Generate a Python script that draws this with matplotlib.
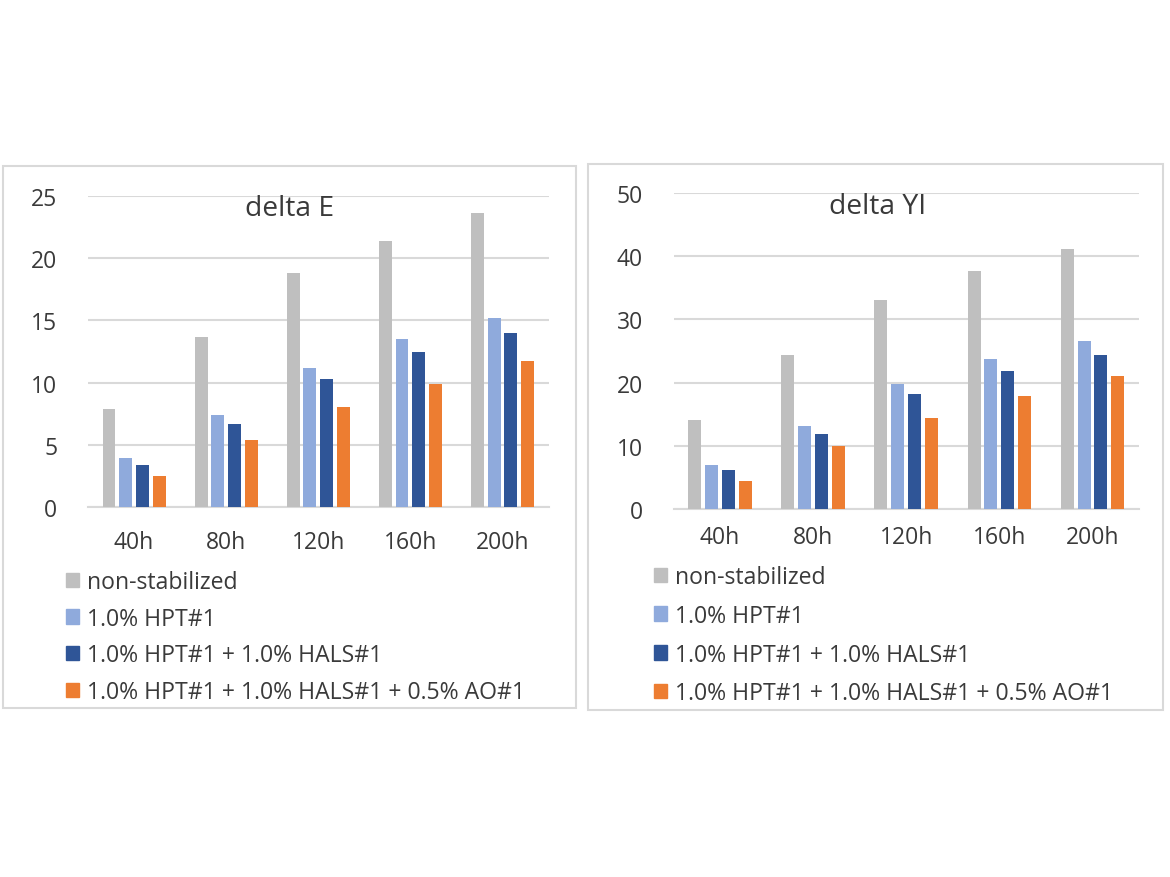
import numpy as np
import matplotlib.pyplot as plt
from matplotlib.patches import Patch, Rectangle

plt.rcParams['font.family'] = ['Open Sans', 'DejaVu Sans']

categorias = ["40h", "80h", "120h", "160h", "200h"]
series = ["non-stabilized",
          "1.0% HPT#1",
          "1.0% HPT#1 + 1.0% HALS#1",
          "1.0% HPT#1 + 1.0% HALS#1 + 0.5% AO#1"]
cores = ["#BFBFBF", "#8FAADC", "#2F5597", "#ED7D31"]

delta_e_nonstab = [7.9, 13.7, 18.8, 21.4, 23.6]
delta_e_hpt = [3.9, 7.4, 11.2, 13.5, 15.2]
delta_e_hals = [3.4, 6.7, 10.3, 12.5, 14.0]
delta_e_ao = [2.5, 5.4, 8.0, 9.9, 11.7]

delta_yi_nonstab = [14.1, 24.3, 33.1, 37.7, 41.2]
delta_yi_hpt = [7.0, 13.2, 19.8, 23.8, 26.6]
delta_yi_hals = [6.1, 11.9, 18.2, 21.9, 24.3]
delta_yi_ao = [4.4, 9.9, 14.4, 17.9, 21.0]

W, H = 1170, 878
fig = plt.figure(figsize=(W / 100, H / 100), dpi=100)
TXT = "#3a3a3a"
GRADE = "#D9D9D9"


def caixa(x0, y0, x1, y1):
    return [x0 / W, 1 - y1 / H, (x1 - x0) / W, (y1 - y0) / H]


def painel(ax, valores, titulo, ymax, passo, titulo_xy, leg_xy, xpad, espaco):
    x = np.arange(len(categorias))
    passo_barra = 0.181
    for i, (v, c) in enumerate(zip(valores, cores)):
        ax.bar(x + (i - 1.5) * passo_barra, v, width=0.14, color=c, zorder=3)
    ax.set_xlim(-0.5, len(categorias) - 0.5)
    ax.set_ylim(0, ymax)
    ax.set_yticks(np.arange(0, ymax + 1, passo))
    ax.set_xticks(x)
    ax.set_xticklabels(categorias)
    ax.grid(axis="y", color=GRADE, lw=1.5, zorder=0)
    for s in ["top", "right", "left"]:
        ax.spines[s].set_visible(False)
    ax.spines["bottom"].set_color(GRADE)
    ax.spines["bottom"].set_linewidth(1.5)
    ax.tick_params(length=0, labelsize=16.5, colors=TXT)
    ax.tick_params(axis="y", pad=22)
    ax.tick_params(axis="x", pad=xpad)
    fig.text(titulo_xy[0] / W, 1 - titulo_xy[1] / H, titulo, fontsize=20.3,
             color=TXT, ha="center", va="center")
    handles = [Patch(color=c) for c in cores]
    ax.legend(handles, series, loc="upper left", frameon=False,
              bbox_to_anchor=(leg_xy[0] / W, 1 - leg_xy[1] / H),
              bbox_transform=fig.transFigure, fontsize=16.6, labelcolor=TXT,
              borderpad=0, borderaxespad=0, handlelength=0.58, handleheight=0.58,
              handletextpad=0.35, labelspacing=espaco)


# bordas dos paineis
fig.patches.append(Rectangle((3 / W, 1 - 709 / H), 573 / W, 542 / H,
                             transform=fig.transFigure, fill=False,
                             ec=GRADE, lw=1.5))
fig.patches.append(Rectangle((588 / W, 1 - 711 / H), 575 / W, 546 / H,
                             transform=fig.transFigure, fill=False,
                             ec=GRADE, lw=1.5))

ax1 = fig.add_axes(caixa(88, 197, 548.5, 508))
painel(ax1, [delta_e_nonstab, delta_e_hpt, delta_e_hals, delta_e_ao],
       "delta E", 25, 5, (290, 209), (66, 571), 16.8, 0.55)

ax2 = fig.add_axes(caixa(673.5, 194, 1139, 510))
painel(ax2, [delta_yi_nonstab, delta_yi_hpt, delta_yi_hals, delta_yi_ao],
       "delta YI", 50, 10, (878, 207), (654, 566), 11.2, 0.64)

fig.savefig("out.png", dpi=100)
